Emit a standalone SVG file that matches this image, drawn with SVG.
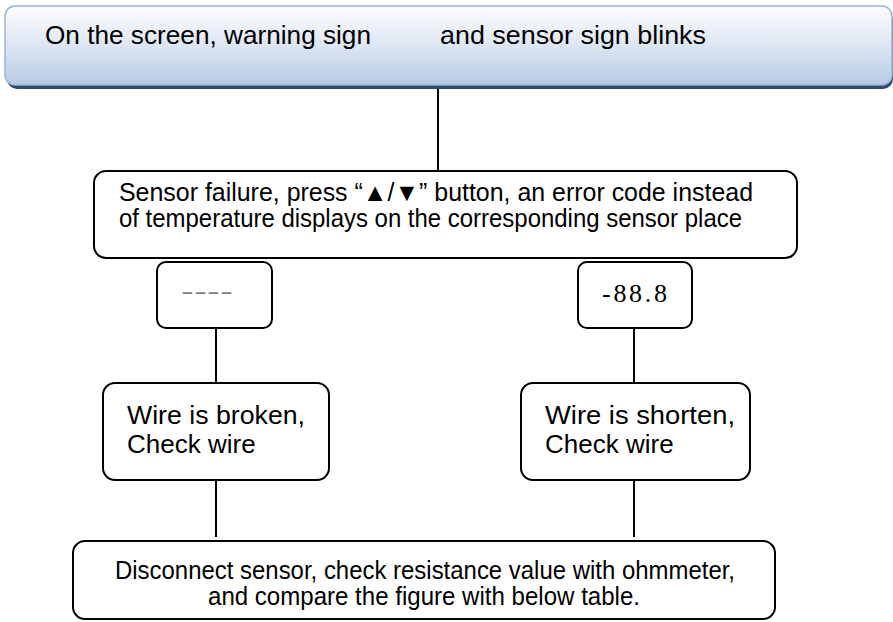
<svg xmlns="http://www.w3.org/2000/svg" width="893" height="622" viewBox="0 0 893 622">
  <defs>
    <linearGradient id="topGrad" x1="0" y1="0" x2="0" y2="1">
      <stop offset="0" stop-color="#fbfcfe"/>
      <stop offset="0.35" stop-color="#e8eef7"/>
      <stop offset="1" stop-color="#b6cae3"/>
    </linearGradient>
    <style>
      .box { fill: #ffffff; stroke: #000000; stroke-width: 2; }
      .conn { stroke: #000000; stroke-width: 2; fill: none; }
      .t { font-family: "Liberation Sans", Arial, sans-serif; font-size: 25px; fill: #000000; }
      .w { font-family: "Liberation Sans", Arial, sans-serif; font-size: 26px; fill: #000000; }
      .top { font-family: "Liberation Sans", Arial, sans-serif; font-size: 26px; fill: #000000; }
    </style>
  </defs>
  <rect width="893" height="622" fill="#ffffff"/>

  <g id="connectors">
    <line class="conn" x1="438" y1="89" x2="438" y2="171"/>
    <line class="conn" x1="216" y1="328" x2="216" y2="383"/>
    <line class="conn" x1="634" y1="328" x2="634" y2="383"/>
    <line class="conn" x1="216" y1="480" x2="216" y2="537"/>
    <line class="conn" x1="634" y1="480" x2="634" y2="537"/>
  </g>

  <g id="node-warning">
    <rect x="7" y="10" width="886" height="79" rx="10" fill="#2d4a70"/>
    <rect x="5" y="6" width="887" height="79" rx="10" fill="url(#topGrad)" stroke="#9cb5d5" stroke-width="1.5"/>
    <text class="top" x="45" y="44" textLength="326" lengthAdjust="spacingAndGlyphs">On the screen, warning sign</text>
    <text class="top" x="440" y="44" textLength="266" lengthAdjust="spacingAndGlyphs">and sensor sign blinks</text>
  </g>

  <g id="node-failure">
    <rect class="box" x="94" y="171" width="703" height="87" rx="12"/>
    <text class="t" x="119" y="201" textLength="634" lengthAdjust="spacingAndGlyphs">Sensor failure, press “▲/▼” button, an error code instead</text>
    <text class="t" x="119" y="227" textLength="623" lengthAdjust="spacingAndGlyphs">of temperature displays on the corresponding sensor place</text>
  </g>

  <g id="node-code-open">
    <rect class="box" x="157" y="262" width="115" height="66" rx="9"/>
    <text x="181" y="299" font-family="'Liberation Sans', Arial, sans-serif" font-size="22" fill="#808080" textLength="52" lengthAdjust="spacingAndGlyphs">----</text>
  </g>

  <g id="node-code-short">
    <rect class="box" x="578" y="262" width="114" height="66" rx="9"/>
    <text x="602" y="302" font-family="'Liberation Serif', serif" font-size="26" fill="#000000" textLength="65" lengthAdjust="spacing">-88.8</text>
  </g>

  <g id="node-broken">
    <rect class="box" x="103" y="383" width="226" height="97" rx="12"/>
    <text class="w" x="127" y="424" textLength="178" lengthAdjust="spacingAndGlyphs">Wire is broken,</text>
    <text class="w" x="127" y="453">Check wire</text>
  </g>

  <g id="node-shorten">
    <rect class="box" x="521" y="383" width="229" height="97" rx="12"/>
    <text class="w" x="545" y="424" textLength="190" lengthAdjust="spacingAndGlyphs">Wire is shorten,</text>
    <text class="w" x="545" y="453">Check wire</text>
  </g>

  <g id="node-disconnect">
    <rect class="box" x="73" y="541" width="702" height="78" rx="12"/>
    <text class="t" x="115" y="579" textLength="620" lengthAdjust="spacingAndGlyphs">Disconnect sensor, check resistance value with ohmmeter,</text>
    <text class="t" x="208" y="605" textLength="432" lengthAdjust="spacingAndGlyphs">and compare the figure with below table.</text>
  </g>
</svg>
